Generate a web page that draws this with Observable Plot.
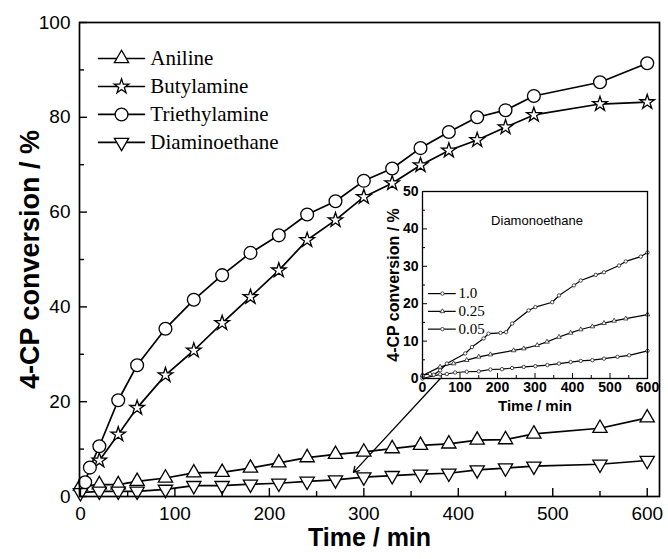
<!DOCTYPE html>
<html><head><meta charset="utf-8">
<script src="https://cdn.jsdelivr.net/npm/d3@7"></script>
<script src="https://cdn.jsdelivr.net/npm/@observablehq/plot@0.6"></script>
<style>
html,body{margin:0;padding:0;background:#fff;}
#wrap{position:relative;width:668px;height:559px;}
#wrap svg{display:block;}
#inset{position:absolute;left:377px;top:183px;}
</style></head><body><div id="wrap"></div>
<script>
// ---------- main chart data ----------
const seriesNames = ["Aniline", "Butylamine", "Triethylamine", "Diaminoethane"];

const tAniline = [0, 20, 40, 60, 90, 120, 150, 180, 210, 240, 270, 300, 330, 360, 390, 420, 450, 480, 550, 600];
const vAniline = [2.2, 2.5, 2.5, 3.2, 3.9, 5.0, 5.1, 6.0, 7.1, 8.2, 8.9, 9.4, 10.1, 10.8, 11.1, 11.9, 12.0, 13.2, 14.4, 16.6];

const tButyl = [20, 40, 60, 90, 120, 150, 180, 210, 240, 270, 300, 330, 360, 390, 420, 450, 480, 550, 600];
const vButyl = [7.6, 13.1, 18.7, 25.6, 30.8, 36.6, 42.1, 47.7, 54.1, 58.3, 63.2, 66.1, 69.9, 73.0, 75.2, 77.9, 80.5, 82.8, 83.2];

const tTriethyl = [5, 10, 20, 40, 60, 90, 120, 150, 180, 210, 240, 270, 300, 330, 360, 390, 420, 450, 480, 550, 600];
const vTriethyl = [3.0, 6.1, 10.6, 20.3, 27.7, 35.4, 41.5, 46.7, 51.4, 55.1, 59.5, 62.3, 66.6, 69.2, 73.5, 76.9, 80.0, 81.5, 84.5, 87.4, 91.4];

const tDiamino = [0, 20, 40, 60, 90, 120, 150, 180, 210, 240, 270, 300, 330, 360, 390, 420, 450, 480, 550, 600];
const vDiamino = [0.8, 1.1, 1.1, 1.1, 1.5, 2.3, 2.3, 2.6, 2.8, 3.2, 3.5, 4.1, 4.4, 4.7, 4.9, 5.6, 6.0, 6.4, 6.8, 7.6];

const xMajor = [0, 100, 200, 300, 400, 500, 600];
const xMinor = [50, 150, 250, 350, 450, 550];
const yMajor = [0, 20, 40, 60, 80, 100];
const yMinor = [10, 30, 50, 70, 90];

const xTitle = "Time / min";
const yTitle = "4-CP conversion / %";

// annotation arrow (from inset corner to the Diaminoethane curve)
const arrowFrom = {t: 381, v: 24.9};
const arrowTo = {t: 289, v: 5.1};

// ---------- inset data ----------
const insetTitle = "Diamonoethane";
const insetSeries = ["1.0", "0.25", "0.05"];
const tIn10 = [0, 20, 30, 47, 65, 114, 132, 163, 176, 208, 223, 239, 283, 301, 346, 364, 404, 422, 462, 484, 524, 542, 582, 600];
const vIn10 = [0.9, 1.2, 1.0, 2.2, 4.0, 6.7, 8.4, 10.7, 12.0, 12.2, 12.4, 14.7, 18.2, 19.1, 20.4, 22.2, 24.9, 26.2, 27.7, 28.4, 30.2, 31.3, 32.6, 33.7];
const tIn025 = [0, 47, 83, 118, 150, 181, 243, 270, 306, 332, 364, 395, 422, 453, 484, 511, 542, 600];
const vIn025 = [0.8, 3.1, 4.0, 4.9, 5.8, 6.4, 7.5, 8.0, 8.9, 9.8, 11.1, 12.2, 13.1, 13.9, 14.8, 15.4, 16.0, 17.1];
const tIn005 = [0, 47, 65, 87, 118, 150, 181, 212, 239, 270, 301, 333, 364, 395, 422, 453, 484, 520, 551, 600];
const vIn005 = [0.0, 1.1, 1.2, 1.6, 1.8, 1.9, 2.4, 2.5, 2.8, 3.1, 3.3, 3.6, 4.0, 4.4, 4.7, 4.9, 5.3, 5.8, 6.2, 7.4];
const inXMajor = [0, 100, 200, 300, 400, 500, 600];
const inXMinor = [50, 150, 250, 350, 450, 550];
const inYMajor = [0, 10, 20, 30, 40, 50];
const inYMinor = [5, 15, 25, 35, 45];

// ---------- build tables ----------
const mk = (name, ts, vs) => ts.map((t, i) => ({s: name, t, v: vs[i]}));
const rows = [
  ...mk(seriesNames[0], tAniline, vAniline),
  ...mk(seriesNames[1], tButyl, vButyl),
  ...mk(seriesNames[2], tTriethyl, vTriethyl),
  ...mk(seriesNames[3], tDiamino, vDiamino)
];
const insetRows = [
  ...mk(insetSeries[0], tIn10, vIn10),
  ...mk(insetSeries[1], tIn025, vIn025),
  ...mk(insetSeries[2], tIn005, vIn005)
];

const sty = {
  "Aniline": {symbol: "triangle", r: 5.3, rotate: 0},
  "Butylamine": {symbol: "star", r: 4.6, rotate: 0},
  "Triethylamine": {symbol: "circle", r: 6.4, rotate: 0},
  "Diaminoethane": {symbol: "triangle", r: 5.3, rotate: 180}
};

const W = 668, H = 559;
const M = {top: 22, right: 9, bottom: 63, left: 79};
const pw = W - M.left - M.right, ph = H - M.top - M.bottom;
const sans = "'Liberation Sans', Arial, Helvetica, sans-serif";
const serif = "'Liberation Serif', 'Times New Roman', serif";

// legend layout (in data units of the main chart)
const legX1 = 19, legX2 = 69, legXM = 43.5, legXT = 74;
const legY = i => 92.4 - i * 5.9;

const marks = [
  Plot.line(rows, {x: "t", y: "v", z: "s", stroke: "black", strokeWidth: 1.7}),
  Plot.arrow([arrowFrom], {x1: "t", y1: "v", x2: () => arrowTo.t, y2: () => arrowTo.v, stroke: "black", strokeWidth: 1.3, headLength: 7})
];
seriesNames.forEach((name, i) => {
  const st = sty[name];
  marks.push(Plot.dot(rows.filter(d => d.s === name), {x: "t", y: "v", symbol: st.symbol, r: st.r, rotate: st.rotate, fill: "white", stroke: "black", strokeWidth: 1.3}));
  marks.push(Plot.ruleY([legY(i)], {x1: legX1, x2: legX2, stroke: "black", strokeWidth: 1.7}));
  marks.push(Plot.dot([legY(i)], {x: legXM, y: d => d, symbol: st.symbol, r: st.r, rotate: st.rotate, fill: "white", stroke: "black", strokeWidth: 1.3}));
  marks.push(Plot.text([name], {x: legXT, y: legY(i), text: d => d, textAnchor: "start", fontFamily: serif, fontSize: 21, fill: "black"}));
});
marks.push(
  Plot.tickY(yMajor, {y: d => d, insetRight: pw - 8, stroke: "black", strokeWidth: 1.4}),
  Plot.tickY(yMinor, {y: d => d, insetRight: pw - 5, stroke: "black", strokeWidth: 1.4}),
  Plot.tickX(xMajor, {x: d => d, insetTop: ph - 8, stroke: "black", strokeWidth: 1.4}),
  Plot.tickX(xMinor, {x: d => d, insetTop: ph - 5, stroke: "black", strokeWidth: 1.4}),
  Plot.frame({stroke: "black", strokeWidth: 1.7}),
  Plot.axisY(yMajor, {tickSize: 0, tickPadding: 9, fontSize: 19, label: null, fill: "black"}),
  Plot.axisX(xMajor, {tickSize: 0, tickPadding: 10, fontSize: 19, label: null, fill: "black"}),
  Plot.text([yTitle], {frameAnchor: "left", dx: -49, rotate: -90, textAnchor: "middle", text: d => d, fontSize: 27, fontWeight: "bold", fill: "black"}),
  Plot.text([xTitle], {frameAnchor: "bottom", dy: 49, textAnchor: "middle", text: d => d, fontSize: 25, fontWeight: "bold", fill: "black"})
);

const main = Plot.plot({
  width: W, height: H,
  marginTop: M.top, marginRight: M.right, marginBottom: M.bottom, marginLeft: M.left,
  x: {domain: [-1, 613]},
  y: {domain: [0, 100]},
  style: {fontFamily: sans, background: "white", color: "black", overflow: "visible"},
  marks
});

// ---------- inset ----------
const insetSym = {"1.0": "circle", "0.25": "triangle", "0.05": "circle"};
const iLegY = i => 22.7 - i * 4.75;
const imarks = [
  Plot.frame({fill: "white", stroke: "none"}),
  Plot.line(insetRows, {x: "t", y: "v", z: "s", stroke: "black", strokeWidth: 1.2})
];
insetSeries.forEach((name, i) => {
  imarks.push(Plot.dot(insetRows.filter(d => d.s === name), {x: "t", y: "v", symbol: insetSym[name], r: 1.7, fill: "white", stroke: "#222", strokeWidth: 0.8}));
  imarks.push(Plot.ruleY([iLegY(i)], {x1: 16, x2: 90, stroke: "black", strokeWidth: 1.2}));
  imarks.push(Plot.dot([iLegY(i)], {x: 53, y: d => d, symbol: insetSym[name], r: 1.7, fill: "white", stroke: "#222", strokeWidth: 0.8}));
  imarks.push(Plot.text([name], {x: 96, y: iLegY(i), text: d => d, textAnchor: "start", fontFamily: serif, fontSize: 15, fill: "black"}));
});
imarks.push(
  Plot.tickY(inYMajor, {y: d => d, insetRight: 225 - 5, stroke: "black", strokeWidth: 1}),
  Plot.tickY(inYMinor, {y: d => d, insetRight: 225 - 3, stroke: "black", strokeWidth: 1}),
  Plot.tickX(inXMajor, {x: d => d, insetTop: 187 - 5, stroke: "black", strokeWidth: 1}),
  Plot.tickX(inXMinor, {x: d => d, insetTop: 187 - 3, stroke: "black", strokeWidth: 1}),
  Plot.frame({stroke: "black", strokeWidth: 1.3}),
  Plot.axisY(inYMajor, {tickSize: 0, tickPadding: 4, fontSize: 14, fontWeight: "bold", label: null, fill: "black"}),
  Plot.axisX(inXMajor, {tickSize: 0, tickPadding: 4, fontSize: 14, fontWeight: "bold", label: null, fill: "black"}),
  Plot.text([yTitle], {frameAnchor: "left", dx: -29, rotate: -90, textAnchor: "middle", text: d => d, fontSize: 16, fontWeight: "bold", fill: "black"}),
  Plot.text([xTitle], {frameAnchor: "bottom", dy: 32, textAnchor: "middle", text: d => d, fontSize: 15, fontWeight: "bold", fill: "black"}),
  Plot.text([insetTitle], {frameAnchor: "top", dx: 2, dy: 24, textAnchor: "middle", text: d => d, fontSize: 13, fill: "black"})
);
const inset = Plot.plot({
  width: 280, height: 240,
  marginTop: 8, marginRight: 10, marginBottom: 45, marginLeft: 45,
  x: {domain: [0, 600]},
  y: {domain: [0, 50]},
  style: {fontFamily: sans, background: "transparent", color: "black", overflow: "visible"},
  marks: imarks
});
inset.id = "inset";

const wrap = document.getElementById("wrap");
wrap.appendChild(main);
wrap.appendChild(inset);
</script></body></html>
